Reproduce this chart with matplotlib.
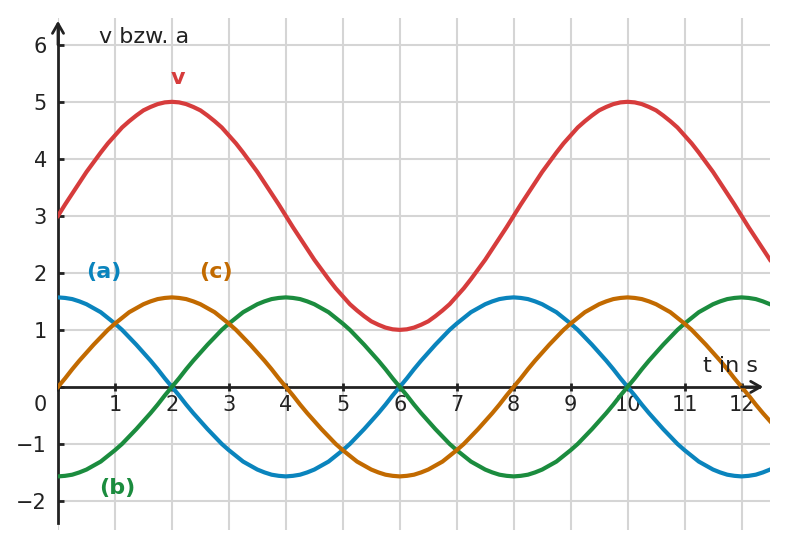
import numpy as np
import matplotlib.pyplot as plt

# sample times, every 0.125 s
t = np.linspace(0, 12.5, 101)

v = [3, 3.20, 3.39, 3.58, 3.77, 3.94, 4.11, 4.27, 4.41, 4.55, 4.66, 4.76, 4.85, 4.91, 4.96, 4.99,
     5, 4.99, 4.96, 4.91, 4.85, 4.76, 4.66, 4.55, 4.41, 4.27, 4.11, 3.94, 3.77, 3.58, 3.39, 3.20,
     3, 2.80, 2.61, 2.42, 2.23, 2.06, 1.89, 1.73, 1.59, 1.45, 1.34, 1.24, 1.15, 1.09, 1.04, 1.01,
     1, 1.01, 1.04, 1.09, 1.15, 1.24, 1.34, 1.45, 1.59, 1.73, 1.89, 2.06, 2.23, 2.42, 2.61, 2.80,
     3, 3.20, 3.39, 3.58, 3.77, 3.94, 4.11, 4.27, 4.41, 4.55, 4.66, 4.76, 4.85, 4.91, 4.96, 4.99,
     5, 4.99, 4.96, 4.91, 4.85, 4.76, 4.66, 4.55, 4.41, 4.27, 4.11, 3.94, 3.77, 3.58, 3.39, 3.20,
     3, 2.80, 2.61, 2.42, 2.23]

a_curve = [1.57, 1.56, 1.54, 1.50, 1.45, 1.38, 1.31, 1.21, 1.11, 1.00, .87, .74, .60, .46, .31, .15,
           0, -.15, -.31, -.46, -.60, -.74, -.87, -1.00, -1.11, -1.21, -1.31, -1.38, -1.45, -1.50, -1.54, -1.56,
           -1.57, -1.56, -1.54, -1.50, -1.45, -1.38, -1.31, -1.21, -1.11, -1.00, -.87, -.74, -.60, -.46, -.31, -.15,
           0, .15, .31, .46, .60, .74, .87, 1.00, 1.11, 1.21, 1.31, 1.38, 1.45, 1.50, 1.54, 1.56,
           1.57, 1.56, 1.54, 1.50, 1.45, 1.38, 1.31, 1.21, 1.11, 1.00, .87, .74, .60, .46, .31, .15,
           0, -.15, -.31, -.46, -.60, -.74, -.87, -1.00, -1.11, -1.21, -1.31, -1.38, -1.45, -1.50, -1.54, -1.56,
           -1.57, -1.56, -1.54, -1.50, -1.45]

b_curve = [-1.57, -1.56, -1.54, -1.50, -1.45, -1.38, -1.31, -1.21, -1.11, -1.00, -.87, -.74, -.60, -.46, -.31, -.15,
           0, .15, .31, .46, .60, .74, .87, 1.00, 1.11, 1.21, 1.31, 1.38, 1.45, 1.50, 1.54, 1.56,
           1.57, 1.56, 1.54, 1.50, 1.45, 1.38, 1.31, 1.21, 1.11, 1.00, .87, .74, .60, .46, .31, .15,
           0, -.15, -.31, -.46, -.60, -.74, -.87, -1.00, -1.11, -1.21, -1.31, -1.38, -1.45, -1.50, -1.54, -1.56,
           -1.57, -1.56, -1.54, -1.50, -1.45, -1.38, -1.31, -1.21, -1.11, -1.00, -.87, -.74, -.60, -.46, -.31, -.15,
           0, .15, .31, .46, .60, .74, .87, 1.00, 1.11, 1.21, 1.31, 1.38, 1.45, 1.50, 1.54, 1.56,
           1.57, 1.56, 1.54, 1.50, 1.45]

c_curve = [0, .15, .31, .46, .60, .74, .87, 1.00, 1.11, 1.21, 1.31, 1.38, 1.45, 1.50, 1.54, 1.56,
           1.57, 1.56, 1.54, 1.50, 1.45, 1.38, 1.31, 1.21, 1.11, 1.00, .87, .74, .60, .46, .31, .15,
           0, -.15, -.31, -.46, -.60, -.74, -.87, -1.00, -1.11, -1.21, -1.31, -1.38, -1.45, -1.50, -1.54, -1.56,
           -1.57, -1.56, -1.54, -1.50, -1.45, -1.38, -1.31, -1.21, -1.11, -1.00, -.87, -.74, -.60, -.46, -.31, -.15,
           0, .15, .31, .46, .60, .74, .87, 1.00, 1.11, 1.21, 1.31, 1.38, 1.45, 1.50, 1.54, 1.56,
           1.57, 1.56, 1.54, 1.50, 1.45, 1.38, 1.31, 1.21, 1.11, 1.00, .87, .74, .60, .46, .31, .15,
           0, -.15, -.31, -.46, -.60]

x_ticks = list(range(0, 13))
y_ticks = [-2, -1, 0, 1, 2, 3, 4, 5, 6]

red = '#d63c3c'
blue = '#0a84bd'
green = '#1b8c3e'
orange = '#c26a00'
dark = '#222222'

fig = plt.figure(figsize=(7.85, 5.47), dpi=100)
ax = fig.add_axes([58 / 785, 17 / 547, 712 / 785, 512 / 547])
ax.set_xlim(0, 12.5)
ax.set_ylim(-2.51, 6.47)

for x in x_ticks:
    ax.axvline(x, color='#d5d5d5', lw=1.5, zorder=0)
for y in y_ticks:
    if y != 0:
        ax.axhline(y, color='#d5d5d5', lw=1.5, zorder=0)

ax.plot(t, v, color=red, lw=3, zorder=3)
ax.plot(t, a_curve, color=blue, lw=3, zorder=3)
ax.plot(t, b_curve, color=green, lw=3, zorder=3)
ax.plot(t, c_curve, color=orange, lw=3, zorder=3)

# axes through the origin
for s in ['top', 'right']:
    ax.spines[s].set_visible(False)
ax.spines['left'].set_position(('data', 0))
ax.spines['bottom'].set_position(('data', 0))
ax.spines['left'].set_bounds(-2.38, 6.3)
ax.spines['bottom'].set_bounds(0, 12.3)
for s in ['left', 'bottom']:
    ax.spines[s].set_color(dark)
    ax.spines[s].set_linewidth(2)
    ax.spines[s].set_zorder(2)

ax.annotate('', xy=(12.38, 0), xytext=(12.0, 0), annotation_clip=False,
            arrowprops=dict(arrowstyle='->,head_width=0.4,head_length=0.7', lw=2,
                            color=dark, shrinkA=0, shrinkB=0))
ax.annotate('', xy=(0, 6.42), xytext=(0, 6.0), annotation_clip=False,
            arrowprops=dict(arrowstyle='->,head_width=0.4,head_length=0.7', lw=2,
                            color=dark, shrinkA=0, shrinkB=0))

ax.set_xticks(x_ticks)
ax.set_xticklabels(['' if x == 0 else str(x) for x in x_ticks])
ax.set_yticks(y_ticks)
ax.set_yticklabels(['' if y == 0 else '\u2212' + str(-y) if y < 0 else str(y) for y in y_ticks])
ax.tick_params(axis='x', direction='inout', length=6, width=2, color=dark,
               labelsize=15, labelcolor=dark, pad=3)
ax.tick_params(axis='y', direction='in', length=4, width=2, color=dark,
               labelsize=15, labelcolor=dark, pad=8)

ax.text(-0.32, -0.32, '0', fontsize=15, color=dark, ha='center', va='center')
ax.text(0.72, 6.14, 'v bzw. a', fontsize=16, color=dark, ha='left', va='center')
ax.text(11.8, 0.37, 't in s', fontsize=16, color=dark, ha='center', va='center')

ax.text(2.1, 5.42, 'v', fontsize=16, color=red, fontweight='bold', ha='center', va='center')
ax.text(0.8, 2.02, '(a)', fontsize=16, color=blue, fontweight='bold', ha='center', va='center')
ax.text(2.77, 2.02, '(c)', fontsize=16, color=orange, fontweight='bold', ha='center', va='center')
ax.text(1.04, -1.77, '(b)', fontsize=16, color=green, fontweight='bold', ha='center', va='center')

fig.savefig('out.png', dpi=100)
